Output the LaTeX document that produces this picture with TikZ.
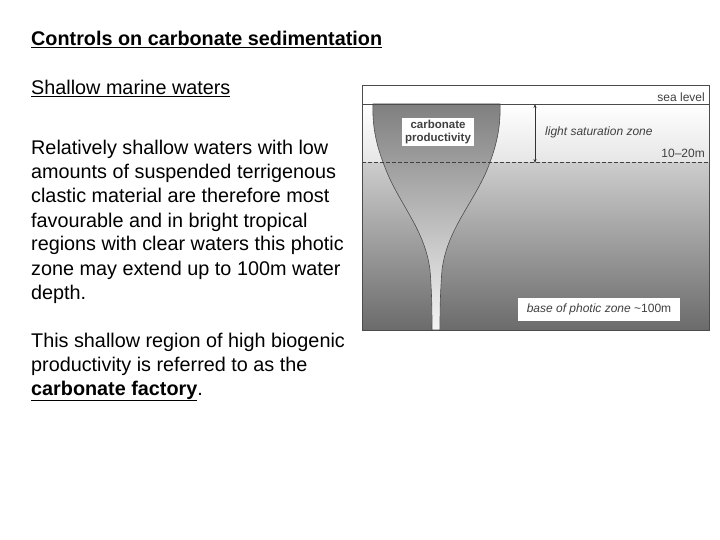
\documentclass[tikz,border=0pt]{standalone}
\usepackage{fontspec}
\setmainfont{Liberation Sans}
\usetikzlibrary{arrows.meta}
\begin{document}
\begin{tikzpicture}[x=1pt,y=-1pt,
  txt/.style={anchor=base west,inner sep=0pt,font=\fontsize{19.8}{22}\selectfont},
  lab/.style={inner sep=0pt,font=\fontsize{12}{14}\selectfont,text=black!75}]
\useasboundingbox (0,0) rectangle (720,540);
\fill[white] (0,0) rectangle (720,540);
% text
\node[txt] (t0) at (31,46) {\textbf{\underline{Controls on carbonate sedimentation}}};
\node[txt] (t1) at (31,95) {\underline{Shallow marine waters}};
\foreach \l [count=\i] in {Relatively shallow waters with low,amounts of suspended terrigenous,clastic material are therefore most,favourable and in bright tropical,regions with clear waters this photic,zone may extend up to 100m water,depth.}
  \node[txt] (p\i) at (31,131+24*\i) {\l};
\node[txt] (q1) at (31,347) {This shallow region of high biogenic};
\node[txt] (q2) at (31,371) {productivity is referred to as the};
\node[txt] (q3) at (31,395) {\textbf{\underline{carbonate factory}}.};
% figure
\shade[top color=white, bottom color=black!10] (362,104) rectangle (709,163);
\shade[top color=black!20, bottom color=black!58] (362,163) rectangle (709,330);
\shade[top color=black!50, bottom color=black!4, draw=black!70, line width=0.6pt]
  (373,104) .. controls (372,130) and (378,150) .. (386,170)
  .. controls (400,205) and (425,230) .. (430,270)
  .. controls (432,295) and (432,315) .. (432,330)
  -- (440,330)
  .. controls (440,315) and (440,295) .. (442,270)
  .. controls (447,230) and (472,205) .. (487,170)
  .. controls (495,150) and (501,130) .. (500,104) -- cycle;
\draw[black!75, line width=1pt, dash pattern=on 4pt off 2pt] (362,163) -- (709,163);
\draw[black!70, line width=0.7pt] (362,85) rectangle (709,330);
\draw[black!70, line width=0.7pt] (362,104) -- (709,104);
\coordinate (a1) at (535,104);
\coordinate (a2) at (535,163);
\draw[{Stealth[length=4pt]}-{Stealth[length=4pt]}, black!80, line width=0.5pt] (a1) -- (a2);
\node[lab, anchor=east] (sl) at (705,97) {sea level};
\node[lab, anchor=west] (ls) at (545,132) {\itshape light saturation zone};
\node[lab, anchor=east] (dz) at (705,153) {10–20m};
\node[fill=white, inner xsep=3pt, inner ysep=2pt, align=center, font=\bfseries\fontsize{11.5}{12.5}\selectfont, text=black!75] (cp) at (438,132) {carbonate\\productivity};
\node[fill=white, minimum width=162pt, minimum height=23pt, inner sep=0pt, font=\itshape\fontsize{12}{14}\selectfont, text=black!75] (bp) at (599,309.5) {base of photic zone \upshape\textasciitilde100m};
\end{tikzpicture}
\end{document}
